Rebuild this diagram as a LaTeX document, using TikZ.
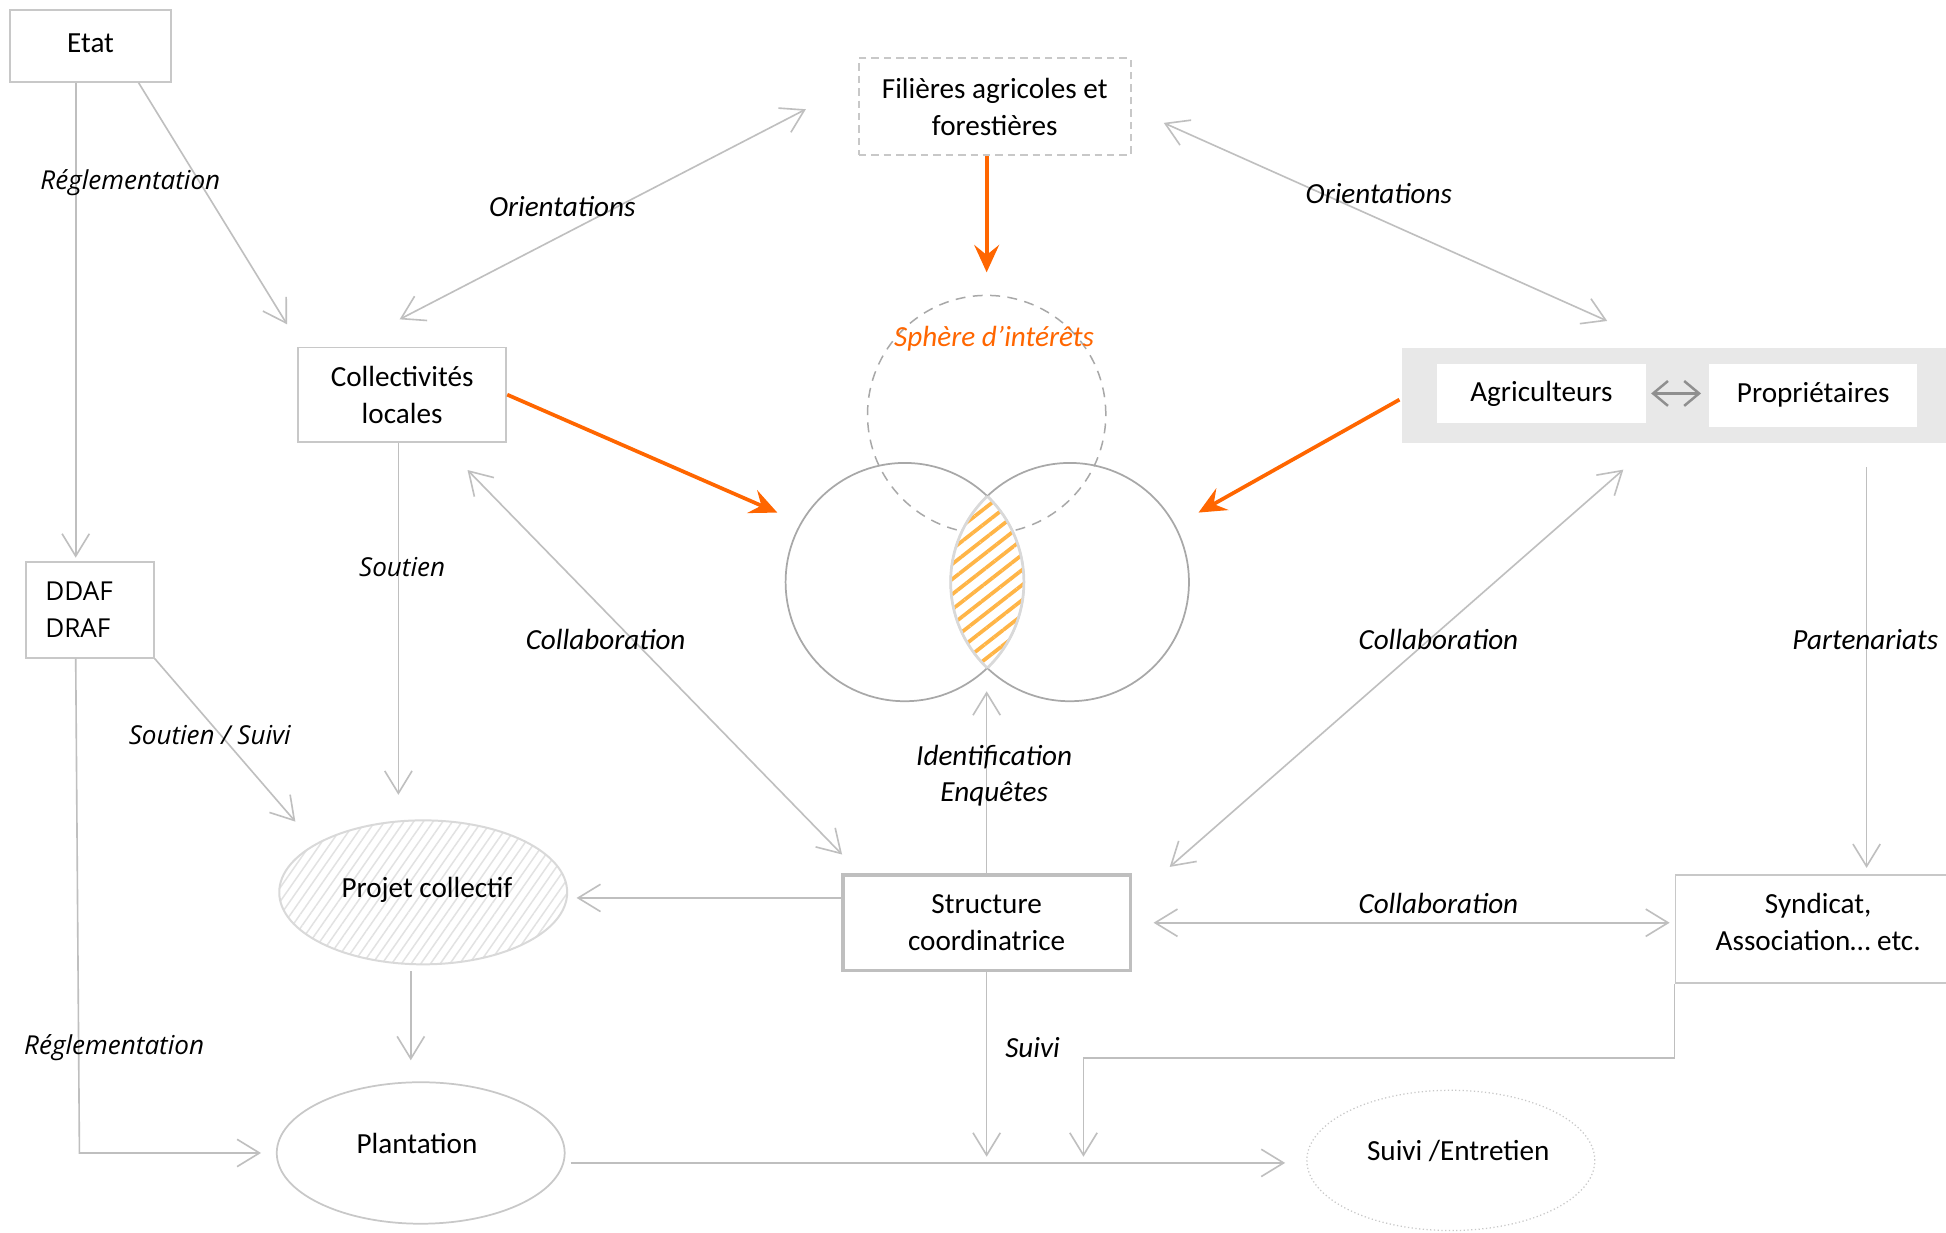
\documentclass[tikz,border=0pt]{standalone}
\usepackage{fontspec}
\setmainfont{Carlito}
\newfontfamily\osf{Open Sans}
\usetikzlibrary{arrows.meta,patterns.meta,shapes.geometric,calc}
\definecolor{lg}{HTML}{BFBFBF}
\definecolor{bg}{HTML}{C8C8C8}
\definecolor{vg}{HTML}{A8A8A8}
\definecolor{og}{HTML}{FF6600}
\definecolor{hatchor}{HTML}{FFB547}
\definecolor{bandgray}{HTML}{E8E8E8}
\definecolor{hg}{HTML}{D9D9D9}
\definecolor{hl}{HTML}{E2E2E2}
\tikzset{
  box/.style={draw=bg, line width=0.7pt, inner sep=0, align=center, fill=white},
  arr/.style={draw=lg, line width=0.65pt, -{Straight Barb[length=9pt,width=11pt]}},
  darr/.style={draw=lg, line width=0.65pt, {Straight Barb[length=9pt,width=11pt]}-{Straight Barb[length=9pt,width=11pt]}},
  oarr/.style={draw=og, line width=1.5pt, -{Stealth[length=11pt,width=10pt,inset=4pt]}},
  lab/.style={font=\fontsize{11.75}{14.5}\selectfont\itshape, inner sep=0, align=center},
  olab/.style={font=\osf\fontsize{10.5}{13}\selectfont\itshape, inner sep=0},
}
\begin{document}
\begin{tikzpicture}[x=0.5pt,y=-0.5pt, font=\fontsize{11.75}{15}\selectfont]
\useasboundingbox[fill=white] (0,0) rectangle (1568,993);

% ---- nodes ----
\node[box, minimum width=65pt, minimum height=29pt] (etat) at (73,37) {\raisebox{2pt}{Etat}};
\node[box, dashed, dash pattern=on 3pt off 2pt, minimum width=109.5pt, minimum height=39pt] (fil) at (801.5,86) {Filières agricoles et\\forestières};
\node[box, minimum width=84pt, minimum height=38pt] (coll) at (324,318) {Collectivités\\locales};
\node[fill=bandgray, minimum width=225pt, minimum height=38.5pt, inner sep=0] (band) at (1355,318.5) {};
\node[fill=white, minimum width=84pt, minimum height=24pt, inner sep=0] (agri) at (1242,317) {Agriculteurs};
\node[fill=white, minimum width=84pt, minimum height=25.5pt, inner sep=0] (prop) at (1461,318.5) {Propriétaires};
\node[box, minimum width=51.5pt, minimum height=38.5pt, text width=36pt, align=left, font=\osf\fontsize{10.5}{15}\selectfont] (ddaf) at (72.5,491.5) {DDAF\\DRAF};
\node[box, draw=lg, line width=1.5pt, minimum width=116pt, minimum height=38.5pt] (struct) at (795,743.5) {Structure\\coordinatrice};
\node[box, minimum width=115pt, minimum height=43.5pt] (synd) at (1465,748.5) {};
\node[inner sep=0, align=center] (syndt) at (1465,743) {Syndicat,\\Association… etc.};
\node[ellipse, draw=hg, line width=0.8pt, pattern={Lines[angle=55,distance=3.2pt,line width=0.6pt]}, pattern color=hl, minimum width=116pt, minimum height=58pt, inner sep=0] (proj) at (341,719) {};
\node[inner sep=0] (projt) at (344,717) {Projet collectif};
\node[ellipse, draw=bg, line width=0.7pt, minimum width=116pt, minimum height=57pt, inner sep=0] (plant) at (339,929) {};
\node[inner sep=0] (plantt) at (336,921) {Plantation};
\node[ellipse, draw=bg, densely dotted, line width=0.5pt, minimum width=116pt, minimum height=56.5pt, inner sep=0] (sui) at (1169,935) {};
\node[inner sep=0] (suit) at (1175,927) {Suivi /Entretien};

% ---- Venn ----
\node[circle, draw=vg, dashed, dash pattern=on 4pt off 3pt, line width=0.6pt, minimum size=96pt, inner sep=0] (sph) at (795,334) {};
\node[circle, draw=vg, line width=0.7pt, minimum size=96pt, inner sep=0] (vl) at (729,469) {};
\node[circle, draw=vg, line width=0.7pt, minimum size=96pt, inner sep=0] (vr) at (862,469) {};
\begin{scope}
  \clip (729,469) circle[radius=96];
  \fill[white] (862,469) circle[radius=96];
  \fill[pattern={Lines[angle=38,distance=4.8pt,line width=1.5pt]}, pattern color=hatchor] (862,469) circle[radius=96];
  \draw[hg, line width=1.1pt] (862,469) circle[radius=96];
\end{scope}
\begin{scope}
  \clip (862,469) circle[radius=96];
  \draw[hg, line width=1.1pt] (729,469) circle[radius=96];
\end{scope}
\coordinate (lensbot) at (795,538);
\node[lab, text=og] (sphl) at (801,273) {Sphère d’intérêts};

% ---- connectors ----
\draw[arr, shorten >=1.5pt] ([xshift=-6pt]etat.south) -- ([xshift=-6pt]etat.south |- ddaf.north);
\draw[arr] ([xshift=-13.5pt]etat.south east) -- ([shift={(-4pt,9pt)}]coll.north west);
\draw[darr] ([shift={(-21pt,-1pt)}]fil.west) -- ([shift={(-1pt,11pt)}]coll.north);
\draw[darr] ([shift={(13pt,-6.5pt)}]fil.east) -- ([shift={(-30pt,10.5pt)}]band.north);
\draw[oarr, shorten >=9pt] (fil.south -| sph.north) -- (sph.north);
\draw[oarr] (coll.east) -- ([shift={(-3pt,28pt)}]vl.west);
\draw[oarr] ([shift={(-1pt,-1.75pt)}]band.west) -- ([shift={(3.5pt,28pt)}]vr.east);
\draw[draw=vg!85!black, line width=1pt, {Straight Barb[length=6pt,width=10pt]}-{Straight Barb[length=6pt,width=10pt]}, shorten <=2pt, shorten >=3pt] (agri.east) -- (agri.east -| prop.west);
\draw[arr, shorten >=10pt] ([xshift=-1.5pt]coll.south) -- ([xshift=-1.5pt]coll.south |- proj.north);
\draw[darr] ([shift={(-16pt,-11pt)}]coll.south east) -- ([shift={(0.5pt,7.5pt)}]struct.north west);
\draw[darr] ([shift={(-23.5pt,-10.5pt)}]band.south) -- ([shift={(15pt,2.5pt)}]struct.north east);
\draw[arr] ([shift={(74.5pt,-9.5pt)}]band.south) -- ([shift={(19.5pt,2.5pt)}]synd.north);
\draw[arr, shorten >=9.5pt] (struct.north) -- (lensbot);
\draw[arr] (ddaf.south east) -- ([shift={(-51.5pt,28.5pt)}]proj.center);
\draw[arr, shorten >=6pt] ([xshift=-5.75pt]ddaf.south) -- ([xshift=-4.25pt]ddaf.south |- plant.west) -- (plant.west);
\draw[arr, shorten >=3.5pt] ([yshift=10pt]struct.west) -- ([yshift=10pt]struct.west -| proj.east);
\draw[arr, shorten <=2.5pt, shorten >=8.5pt] ([xshift=-5pt]proj.south) -- ([xshift=-5pt]proj.south |- plant.north);
\draw[darr, shorten <=8.5pt, shorten >=2pt] (struct.east) -- (struct.east -| synd.west);
\draw[arr, shorten <=2pt, shorten >=8.5pt] ([yshift=-4pt]plant.east) -- ([yshift=-4pt]plant.east -| sui.west);
\coordinate (j1) at (795,937);
\coordinate (j2) at (873,937);
\draw[arr, shorten >=2.5pt] (struct.south) -- (j1);
\draw[arr, shorten >=2.5pt] (synd.south west) -- ++(0,-30pt) -| (j2);

% ---- labels ----
\node[olab] (lreg1) at (105,147) {Réglementation};
\node[lab] (lor1) at (453,166) {Orientations};
\node[lab] (lor2) at (1111,156) {Orientations};
\node[olab] (lsout) at (324,457) {Soutien};
\node[lab] (lcol1) at (488,515) {Collaboration};
\node[lab] (lcol2) at (1159,515) {Collaboration};
\node[lab] (lpart) at (1503,515) {Partenariats};
\node[lab] (lid) at (801,625) {Identification\\Enquêtes};
\node[olab] (lss) at (169,592) {Soutien / Suivi};
\node[olab] (lreg2) at (92,844) {Réglementation};
\node[lab] (lcol3) at (1159,728) {Collaboration};
\node[lab] (lsuivi) at (832,844) {Suivi};
\end{tikzpicture}
\end{document}
